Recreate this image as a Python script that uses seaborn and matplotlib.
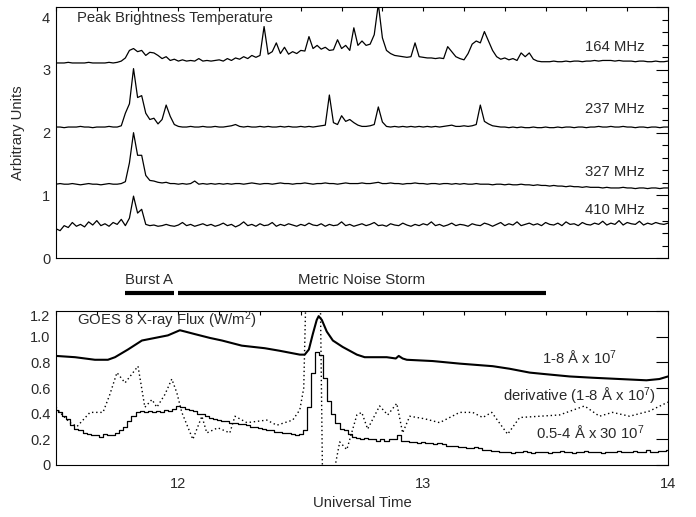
import numpy as np
import pandas as pd
import matplotlib
matplotlib.use("Agg")
import matplotlib.pyplot as plt
import seaborn as sns
from matplotlib.ticker import MultipleLocator, FixedLocator

# ---------------- data ----------------
# top panel: one value per minute from 11.5 UT to 14.0 UT
t_start_ut = 11.5
minutes_top = np.arange(151)

f164 = [3.11,3.11,3.11,3.12,3.11,3.11,3.11,3.11,3.12,3.11,3.11,3.11,3.11,3.12,3.11,3.12,
        3.14,3.19,3.31,3.34,3.29,3.31,3.23,3.28,3.27,3.23,3.18,3.21,3.15,3.17,3.14,3.16,
        3.14,3.15,3.14,3.18,3.14,3.15,3.14,3.15,3.16,3.14,3.18,3.15,3.19,3.17,3.21,3.18,
        3.23,3.20,3.23,3.69,3.25,3.29,3.43,3.26,3.36,3.25,3.29,3.26,3.31,3.30,3.53,3.34,
        3.39,3.33,3.36,3.31,3.32,3.48,3.34,3.39,3.31,3.67,3.39,3.46,3.39,3.41,3.56,4.05,
        3.51,3.31,3.26,3.23,3.22,3.21,3.20,3.21,3.43,3.21,3.20,3.19,3.19,3.18,3.19,3.18,
        3.37,3.29,3.21,3.18,3.16,3.26,3.41,3.46,3.43,3.61,3.46,3.31,3.21,3.17,3.19,3.16,
        3.18,3.15,3.27,3.21,3.27,3.17,3.14,3.13,3.13,3.13,3.14,3.13,3.13,3.14,3.13,3.14,
        3.14,3.13,3.14,3.14,3.15,3.14,3.15,3.15,3.15,3.14,3.15,3.14,3.14,3.14,3.13,3.14,
        3.14,3.13,3.13,3.14,3.13,3.13,3.14]

f237 = [2.09,2.09,2.08,2.09,2.09,2.09,2.10,2.09,2.09,2.08,2.09,2.09,2.09,2.10,2.09,2.09,
        2.11,2.31,2.46,3.02,2.56,2.59,2.31,2.21,2.23,2.14,2.21,2.44,2.26,2.13,2.10,2.09,
        2.09,2.10,2.09,2.09,2.10,2.09,2.09,2.10,2.09,2.09,2.10,2.11,2.13,2.10,2.09,2.10,
        2.09,2.09,2.10,2.09,2.10,2.09,2.09,2.10,2.09,2.10,2.09,2.09,2.10,2.09,2.10,2.09,
        2.10,2.11,2.12,2.60,2.16,2.13,2.27,2.18,2.21,2.16,2.12,2.10,2.10,2.11,2.13,2.41,
        2.17,2.10,2.09,2.10,2.09,2.10,2.09,2.10,2.09,2.10,2.09,2.10,2.09,2.10,2.09,2.10,
        2.11,2.12,2.10,2.10,2.11,2.10,2.11,2.13,2.44,2.18,2.14,2.11,2.10,2.09,2.09,2.08,
        2.09,2.08,2.09,2.08,2.08,2.09,2.08,2.08,2.09,2.08,2.08,2.09,2.08,2.09,2.09,2.08,
        2.09,2.09,2.08,2.09,2.09,2.10,2.09,2.09,2.10,2.09,2.09,2.10,2.09,2.09,2.08,2.09,
        2.09,2.08,2.09,2.09,2.08,2.09,2.09]

f327 = [1.18,1.19,1.18,1.18,1.19,1.18,1.17,1.18,1.19,1.18,1.18,1.17,1.18,1.19,1.18,1.18,1.19,
        1.22,1.52,2.00,1.64,1.64,1.32,1.24,1.23,1.21,
        1.20,1.21,1.19,1.19,1.18,1.19,1.18,1.19,1.23,1.18,1.19,1.18,1.19,1.18,1.19,1.18,
        1.19,1.18,1.19,1.19,1.18,1.19,1.20,1.19,1.18,1.19,1.19,1.18,1.19,1.20,1.19,1.19,
        1.18,1.19,1.19,1.20,1.19,1.18,1.19,1.19,1.20,1.19,1.19,1.18,1.19,1.20,1.19,1.19,
        1.19,1.20,1.19,1.19,1.20,1.21,1.19,1.19,1.20,1.19,1.19,1.18,1.19,1.19,1.20,1.19,
        1.19,1.18,1.19,1.19,1.18,1.19,1.19,1.18,1.19,1.18,1.19,1.18,1.18,1.19,1.18,1.18,
        1.18,1.17,1.18,1.18,1.17,1.18,1.17,1.17,1.18,1.17,1.17,1.16,1.17,1.16,1.16,1.15,
        1.16,1.15,1.15,1.14,1.15,1.14,1.14,1.13,1.14,1.13,1.13,1.13,1.12,1.13,1.12,1.12,
        1.12,1.13,1.12,1.12,1.11,1.12,1.12,1.11,1.12,1.12,1.11,1.12,1.12]

f410 = [0.47,0.44,0.52,0.49,0.57,0.51,0.54,0.50,0.58,0.53,0.60,0.52,0.55,0.51,0.57,0.54,0.62,0.52,
        0.64,0.99,0.72,0.78,0.54,
        0.52,0.53,0.51,0.52,0.54,0.52,0.51,0.53,0.57,0.52,0.54,0.51,0.53,0.55,0.52,0.54,
        0.51,0.53,0.56,0.52,0.54,0.50,0.53,0.58,0.52,0.54,0.51,0.55,0.52,0.53,0.57,0.51,
        0.54,0.52,0.55,0.53,0.51,0.54,0.52,0.56,0.53,0.52,0.55,0.51,0.54,0.52,0.53,0.58,
        0.52,0.54,0.51,0.53,0.55,0.52,0.54,0.57,0.52,0.53,0.51,0.55,0.53,0.52,0.56,0.53,
        0.51,0.54,0.52,0.55,0.53,0.58,0.52,0.54,0.51,0.53,0.56,0.52,0.54,0.53,0.51,0.55,
        0.53,0.52,0.56,0.54,0.51,0.54,0.57,0.52,0.55,0.53,0.58,0.52,0.54,0.56,0.53,0.55,
        0.52,0.57,0.54,0.53,0.56,0.52,0.58,0.54,0.55,0.52,0.57,0.54,0.53,0.56,0.54,0.59,
        0.53,0.56,0.54,0.60,0.53,0.57,0.55,0.54,0.59,0.53,0.56,0.54,0.57,0.55,0.54,0.56]

band_labels = ["164 MHz", "237 MHz", "327 MHz", "410 MHz"]
band_label_y = [3.36, 2.38, 1.37, 0.77]

# bottom panel: GOES 8
xr_long_t = [11.500,11.578,11.659,11.712,11.741,11.794,11.851,11.904,11.957,12.006,12.027,12.067,
             12.129,12.178,12.259,12.353,12.414,12.496,12.516,12.533,12.549,12.565,12.573,12.586,
             12.606,12.631,12.671,12.729,12.761,12.851,12.888,12.900,12.916,12.933,13.039,13.149,
             13.284,13.353,13.435,13.488,13.598,13.692,13.802,13.912,13.965,14.000]
xr_long = [0.85,0.84,0.82,0.82,0.84,0.90,0.97,0.99,1.01,1.05,1.04,1.02,
           0.99,0.97,0.93,0.91,0.89,0.86,0.86,0.90,1.02,1.13,1.16,1.13,
           1.04,0.97,0.92,0.86,0.84,0.84,0.83,0.85,0.83,0.82,0.81,0.79,
           0.77,0.75,0.72,0.71,0.69,0.68,0.67,0.66,0.67,0.69]

deriv_t = [11.500,11.516,11.557,11.586,11.639,11.692,11.720,11.749,11.782,11.835,11.863,11.892,
           11.912,11.945,11.973,11.994,12.014,12.059,12.096,12.116,12.161,12.210,12.231,12.280,
           12.361,12.402,12.467,12.496,12.512,12.524,12.578,12.590,12.631,12.659,12.688,12.729,
           12.749,12.773,12.822,12.855,12.892,12.916,12.945,13.006,13.067,13.149,13.202,13.243,
           13.280,13.345,13.394,13.476,13.557,13.659,13.720,13.773,13.843,13.924,14.000]
deriv = [0.45,0.41,0.33,0.30,0.41,0.41,0.55,0.72,0.64,0.77,0.45,0.51,
         0.45,0.55,0.67,0.56,0.41,0.20,0.38,0.25,0.29,0.25,0.38,0.33,
         0.35,0.31,0.35,0.43,0.60,1.60,1.60,-0.30,-0.10,0.18,0.12,0.39,
         0.41,0.28,0.46,0.39,0.48,0.25,0.38,0.36,0.33,0.41,0.41,0.37,
         0.41,0.24,0.37,0.38,0.39,0.46,0.38,0.41,0.38,0.42,0.49]

xr_short = [0.43,0.41,0.38,0.36,0.31,0.28,0.27,0.25,0.24,0.23,0.23,0.22,0.24,0.23,0.23,0.25,
            0.27,0.30,0.34,0.38,0.41,0.42,0.41,0.42,0.41,0.42,0.41,0.43,0.42,0.44,0.46,0.45,
            0.44,0.43,0.42,0.40,0.40,0.38,0.37,0.36,0.35,0.34,0.34,0.33,0.33,0.32,0.32,0.31,
            0.30,0.30,0.29,0.28,0.27,0.27,0.26,0.26,0.25,0.25,0.24,0.23,0.24,0.27,0.45,0.72,
            0.88,0.86,0.68,0.50,0.40,0.33,0.28,0.27,0.24,0.22,0.21,0.20,0.21,0.20,0.20,0.19,
            0.20,0.19,0.20,0.20,0.23,0.19,0.19,0.18,0.18,0.17,0.18,0.17,0.17,0.16,0.17,0.16,
            0.15,0.15,0.15,0.14,0.14,0.13,0.13,0.14,0.13,0.12,0.12,0.11,0.11,0.10,0.10,0.10,
            0.09,0.10,0.10,0.11,0.10,0.09,0.10,0.10,0.10,0.09,0.10,0.10,0.11,0.10,0.10,0.09,
            0.10,0.10,0.11,0.10,0.10,0.10,0.09,0.10,0.10,0.10,0.11,0.10,0.10,0.10,0.11,0.10,
            0.10,0.12,0.10,0.10,0.11,0.11,0.12]

period_names = ["Burst A", "Metric Noise Storm"]
period_start = [11.78, 12.00]
period_end = [11.98, 13.50]

# ---------------- styling ----------------
sns.set_theme(style="white")
plt.rcParams['font.family'] = ['Liberation Sans', 'DejaVu Sans']
plt.rcParams['mathtext.fontset'] = 'custom'
plt.rcParams['mathtext.rm'] = 'Liberation Sans'
plt.rcParams['mathtext.it'] = 'Liberation Sans:italic'
plt.rcParams['mathtext.bf'] = 'Liberation Sans:bold'
plt.rcParams['axes.edgecolor'] = 'black'
plt.rcParams['axes.linewidth'] = 0.8

TXT = '#2a2a2a'
FS = 10.7
TFS = 10.5

W, H = 696, 517
fig = plt.figure(figsize=(W / 100, H / 100), dpi=100)
ax1 = fig.add_axes([56 / W, 1 - 258.3 / H, 612 / W, (258.3 - 6.7) / H])
ax2 = fig.add_axes([56 / W, 1 - 465 / H, 612 / W, 154 / H])

# ---------------- top panel ----------------
t_top = t_start_ut + minutes_top / 60.0
top_df = pd.DataFrame({"time": t_top, "164 MHz": f164, "237 MHz": f237,
                       "327 MHz": f327, "410 MHz": f410})
top_long = top_df.melt(id_vars="time", var_name="band", value_name="value")
sns.lineplot(data=top_long, x="time", y="value", hue="band",
             palette={b: "black" for b in band_labels}, estimator=None,
             legend=False, lw=0.9, ax=ax1)

ax1.set_xlim(11.5, 14.0)
ax1.set_ylim(0, 4.006)
ax1.xaxis.set_major_locator(FixedLocator([12, 13, 14]))
ax1.xaxis.set_minor_locator(MultipleLocator(1 / 6))
ax1.yaxis.set_major_locator(FixedLocator([0, 1, 2, 3, 4]))
ax1.set_yticklabels(['0', '1', '2', '3', ''])
ax1.yaxis.set_minor_locator(MultipleLocator(0.2))
ax1.tick_params(axis='both', which='both', direction='in', top=True, right=True,
                color='black', width=0.8, labelcolor=TXT, labelsize=TFS)
ax1.tick_params(axis='x', which='both', length=3.2, labelbottom=False)
ax1.tick_params(axis='y', which='major', length=8.6, pad=4)
ax1.tick_params(axis='y', which='minor', length=4.3)
ax1.set_xlabel("")
ax1.set_ylabel("Arbitrary Units", fontsize=FS, color=TXT)
ax1.yaxis.set_label_coords(-0.05, 0.5)
ax1.text(-0.0098, 0.951, "4", transform=ax1.transAxes, ha='right', va='center',
         fontsize=TFS, color=TXT)
ax1.text(0.034, 0.955, "Peak Brightness Temperature", transform=ax1.transAxes,
         ha='left', va='center', fontsize=FS, color=TXT)
for lab, yv in zip(band_labels, band_label_y):
    ax1.text(13.904, yv, lab, ha='right', va='center', fontsize=FS, color=TXT)

# ---------------- bottom panel ----------------
long_df = pd.DataFrame({"time": xr_long_t, "flux": xr_long})
deriv_df = pd.DataFrame({"time": deriv_t, "flux": deriv})
t_short = t_start_ut + np.arange(len(xr_short)) / 60.0
short_df = pd.DataFrame({"time": t_short, "flux": xr_short})

sns.lineplot(data=long_df, x="time", y="flux", color="black", lw=1.5,
             estimator=None, ax=ax2)
sns.lineplot(data=deriv_df, x="time", y="flux", color="black", lw=1.0,
             linestyle=(0, (1, 2)), estimator=None, ax=ax2)
sns.lineplot(data=short_df, x="time", y="flux", color="black", lw=0.9,
             drawstyle="steps-mid", estimator=None, ax=ax2)

ax2.set_xlim(11.5, 14.0)
ax2.set_ylim(0, 1.2)
ax2.xaxis.set_major_locator(FixedLocator([12, 13, 14]))
ax2.xaxis.set_minor_locator(MultipleLocator(1 / 6))
ax2.yaxis.set_major_locator(FixedLocator([0, 0.2, 0.4, 0.6, 0.8, 1.0, 1.2]))
ax2.set_yticklabels(['0', '0.2', '0.4', '0.6', '0.8', '1.0', ''])
ax2.set_xticklabels(['12', '13', '14'])
ax2.tick_params(axis='both', which='both', direction='in', top=True, right=True,
                color='black', width=0.8, labelcolor=TXT, labelsize=TFS)
ax2.tick_params(axis='x', which='both', length=3.2, pad=9)
ax2.tick_params(axis='y', which='major', length=8.6, pad=4)
ax2.text(-0.0098, 0.961, "1.2", transform=ax2.transAxes, ha='right', va='center',
         fontsize=TFS, color=TXT)
ax2.set_ylabel("")
ax2.set_xlabel("Universal Time", fontsize=FS, color=TXT)
ax2.xaxis.set_label_coords(0.5, -0.2)

ax2.text(0.034, 0.94, "GOES 8 X-ray Flux (W/m$^{2}$)", transform=ax2.transAxes,
         ha='left', va='center', fontsize=FS, color=TXT)
ax2.text(13.794, 0.834, "1-8 Å x 10$^{7}$", ha='right', va='center', fontsize=FS, color=TXT)
ax2.text(13.953, 0.538, "derivative (1-8 Å x 10$^{7}$)", ha='right', va='center',
         fontsize=FS, color=TXT)
ax2.text(13.904, 0.25, "0.5-4 Å x 30 10$^{7}$", ha='right', va='center', fontsize=FS, color=TXT)

# periods between the panels
xt = ax2.get_xaxis_transform()
for name, s, e in zip(period_names, period_start, period_end):
    ax2.plot([s, e], [1.117, 1.117], transform=xt, clip_on=False, color='black',
             lw=3.0, solid_capstyle='butt')
    ax2.text((s + e) / 2, 1.20, name, transform=xt, ha='center', va='center',
             fontsize=FS, color=TXT, clip_on=False)

fig.savefig("out.png", dpi=100)
